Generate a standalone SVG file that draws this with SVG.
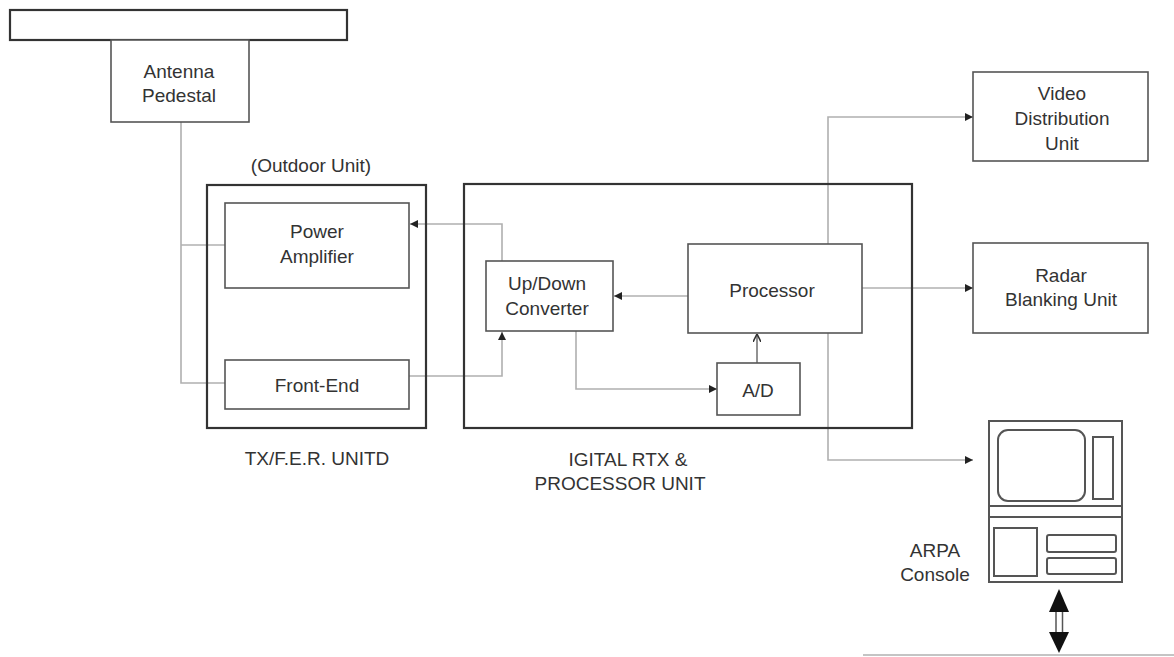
<svg xmlns="http://www.w3.org/2000/svg" width="1174" height="657" viewBox="0 0 1174 657">
<defs>
<style>
text{font-family:"Liberation Sans",Arial,sans-serif;font-size:19px;fill:#333;text-anchor:middle}
.outer{fill:none;stroke:#333;stroke-width:2.2}
.box{fill:#fff;stroke:#555;stroke-width:1.6}
.con{fill:none;stroke:#b0b0b0;stroke-width:1.6}
.con2{fill:none;stroke:#777;stroke-width:1.6}
.cons{fill:none;stroke:#555;stroke-width:2}
</style>
<marker id="ah" viewBox="0 0 10 10" refX="10" refY="5" markerWidth="9" markerHeight="8" markerUnits="userSpaceOnUse" orient="auto">
<path d="M0,0 L10,5 L0,10 Z" fill="#222"/>
</marker>
<marker id="oh" viewBox="0 0 10 10" refX="10" refY="5" markerWidth="8" markerHeight="8" markerUnits="userSpaceOnUse" orient="auto">
<path d="M0,0 L10,5 L0,10" fill="none" stroke="#333" stroke-width="2"/>
</marker>
</defs>

<g id="connectors">
<path class="con" d="M181,122 V383 H225"/>
<path class="con" d="M181,245 H225"/>
<path class="con" d="M409,376 H502 V332" marker-end="url(#ah)"/>
<path class="con" d="M502,261 V224 H410" marker-end="url(#ah)"/>
<path class="con" d="M688,296 H614" marker-end="url(#ah)"/>
<path class="con" d="M576,331 V389 H717" marker-end="url(#ah)"/>
<path class="con2" d="M757,363 V334" marker-end="url(#oh)"/>
<path class="con" d="M828,244 V117 H973" marker-end="url(#ah)"/>
<path class="con" d="M862,288 H973" marker-end="url(#ah)"/>
<path class="con" d="M828,333 V460 H973" marker-end="url(#ah)"/>
<path class="con" d="M863,655 H1174"/>
</g>

<g id="antenna">
<rect class="outer" x="10" y="10" width="337" height="30"/>
</g>

<g id="antenna-pedestal">
<rect class="box" x="111" y="40" width="138" height="82"/>
<text x="179" y="78">Antenna</text>
<text x="179" y="102">Pedestal</text>
</g>

<g id="tx-unit">
<text x="311" y="172">(Outdoor Unit)</text>
<rect class="outer" x="207" y="185" width="219" height="243"/>
<text x="317" y="465">TX/F.E.R. UNITD</text>
</g>

<g id="power-amplifier">
<rect class="box" x="225" y="203" width="184" height="85"/>
<text x="317" y="238">Power</text>
<text x="317" y="263">Amplifier</text>
</g>

<g id="front-end">
<rect class="box" x="225" y="360" width="184" height="49"/>
<text x="317" y="392">Front-End</text>
</g>

<g id="digital-unit">
<rect class="outer" x="464" y="184" width="448" height="244"/>
<text x="628" y="466">IGITAL RTX &amp;</text>
<text x="620" y="490">PROCESSOR UNIT</text>
</g>

<g id="converter">
<rect class="box" x="486" y="261" width="127" height="70"/>
<text x="547" y="290">Up/Down</text>
<text x="547" y="315">Converter</text>
</g>

<g id="processor">
<rect class="box" x="688" y="244" width="174" height="89"/>
<text x="772" y="297">Processor</text>
</g>

<g id="ad">
<rect class="box" x="717" y="363" width="83" height="52"/>
<text x="758" y="397">A/D</text>
</g>

<g id="video">
<rect class="box" x="973" y="72" width="175" height="89"/>
<text x="1062" y="100">Video</text>
<text x="1062" y="125">Distribution</text>
<text x="1062" y="150">Unit</text>
</g>

<g id="radar">
<rect class="box" x="973" y="243" width="175" height="90"/>
<text x="1061" y="282">Radar</text>
<text x="1061" y="306">Blanking Unit</text>
</g>

<g id="arpa">
<rect class="cons" x="989" y="421" width="133" height="161"/>
<rect class="cons" x="998" y="430" width="87" height="71" rx="10"/>
<rect class="cons" x="1093" y="437" width="20" height="62"/>
<line class="cons" x1="989" y1="506" x2="1122" y2="506"/>
<line class="cons" x1="989" y1="517" x2="1122" y2="517"/>
<rect class="cons" x="994" y="528" width="43" height="48"/>
<rect class="cons" x="1047" y="535" width="69" height="17" rx="2"/>
<rect class="cons" x="1047" y="558" width="69" height="16" rx="2"/>
<text x="935" y="557">ARPA</text>
<text x="935" y="581">Console</text>
</g>

<g id="bus-arrow">
<path d="M1059,589 L1069,612 L1049,612 Z" fill="#111"/>
<path d="M1059,653 L1069,632 L1049,632 Z" fill="#111"/>
<line x1="1056" y1="612" x2="1056" y2="632" stroke="#555" stroke-width="1.5"/>
<line x1="1062.5" y1="612" x2="1062.5" y2="632" stroke="#555" stroke-width="1.5"/>
</g>
</svg>
